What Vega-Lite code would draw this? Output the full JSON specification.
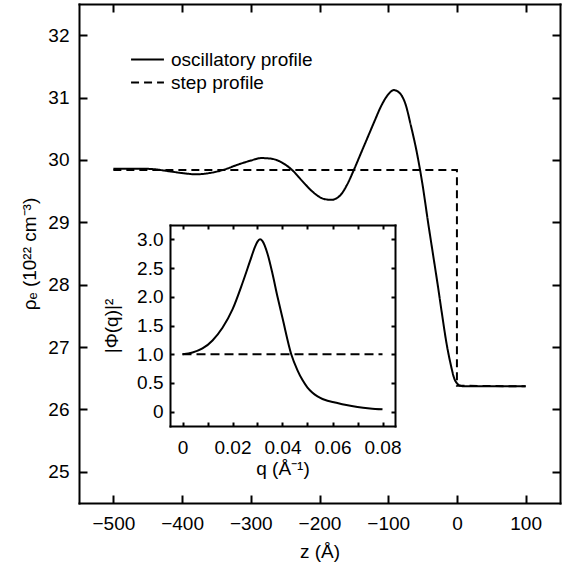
{
  "$schema": "https://vega.github.io/schema/vega-lite/v6.json",
  "width": 481,
  "height": 499,
  "autosize": {"type": "none"},
  "padding": {"left": 79, "top": 4, "right": 3, "bottom": 65},
  "background": "white",
  "config": {
    "view": {"stroke": null},
    "font": "Liberation Sans",
    "axis": {
      "grid": false,
      "domainColor": "black",
      "domainWidth": 2,
      "domainCap": "square",
      "tickColor": "black",
      "tickWidth": 2,
      "labelFont": "Liberation Sans",
      "labelFontSize": 19,
      "labelColor": "black",
      "titleFont": "Liberation Sans",
      "titleFontSize": 19,
      "titleFontWeight": "normal",
      "titleColor": "black",
      "labelFlush": false,
      "labelOverlap": false
    },
    "legend": {
      "orient": "none",
      "legendX": 56,
      "legendY": 43,
      "title": null,
      "symbolType": "M-1.43,0H1.43",
      "symbolStrokeColor": "black",
      "symbolStrokeWidth": 2,
      "symbolSize": 529,
      "labelFont": "Liberation Sans",
      "labelFontSize": 19,
      "labelColor": "black",
      "labelOffset": 11,
      "rowPadding": 0,
      "padding": 0
    }
  },
  "datasets": {
    "osc": [
      {"z": -500, "rho": 29.86}, {"z": -480, "rho": 29.86}, {"z": -460, "rho": 29.86},
      {"z": -440, "rho": 29.85}, {"z": -420, "rho": 29.82}, {"z": -400, "rho": 29.79},
      {"z": -380, "rho": 29.77}, {"z": -360, "rho": 29.79}, {"z": -340, "rho": 29.84},
      {"z": -320, "rho": 29.92}, {"z": -300, "rho": 29.99}, {"z": -285, "rho": 30.03},
      {"z": -270, "rho": 30.02}, {"z": -255, "rho": 29.96}, {"z": -240, "rho": 29.84},
      {"z": -225, "rho": 29.66}, {"z": -210, "rho": 29.49}, {"z": -195, "rho": 29.38},
      {"z": -183, "rho": 29.36}, {"z": -170, "rho": 29.43}, {"z": -160, "rho": 29.6},
      {"z": -150, "rho": 29.84}, {"z": -140, "rho": 30.1}, {"z": -130, "rho": 30.36},
      {"z": -120, "rho": 30.62}, {"z": -110, "rho": 30.87}, {"z": -100, "rho": 31.05},
      {"z": -92, "rho": 31.12}, {"z": -84, "rho": 31.08}, {"z": -75, "rho": 30.9},
      {"z": -67, "rho": 30.55}, {"z": -58, "rho": 30.1}, {"z": -50, "rho": 29.6},
      {"z": -42, "rho": 29.0}, {"z": -35, "rho": 28.5}, {"z": -28, "rho": 28.0},
      {"z": -22, "rho": 27.55}, {"z": -15, "rho": 27.05}, {"z": -9, "rho": 26.72},
      {"z": -4, "rho": 26.5}, {"z": 0, "rho": 26.42}, {"z": 5, "rho": 26.38},
      {"z": 12, "rho": 26.37}, {"z": 30, "rho": 26.37}, {"z": 100, "rho": 26.37}
    ],
    "step": [
      {"i": 1, "z": -500, "rho": 29.84},
      {"i": 2, "z": 0, "rho": 29.84},
      {"i": 3, "z": 0, "rho": 26.38},
      {"i": 4, "z": 100, "rho": 26.37}
    ],
    "phi": [
      {"q": 0, "v": 1.0}, {"q": 0.004, "v": 1.03}, {"q": 0.008, "v": 1.1},
      {"q": 0.012, "v": 1.24}, {"q": 0.016, "v": 1.46}, {"q": 0.02, "v": 1.78},
      {"q": 0.024, "v": 2.24}, {"q": 0.027, "v": 2.62}, {"q": 0.029, "v": 2.87},
      {"q": 0.03, "v": 2.96}, {"q": 0.031, "v": 3.0}, {"q": 0.032, "v": 2.97},
      {"q": 0.034, "v": 2.75}, {"q": 0.036, "v": 2.4}, {"q": 0.038, "v": 2.0},
      {"q": 0.04, "v": 1.63}, {"q": 0.0435, "v": 1.0}, {"q": 0.046, "v": 0.72},
      {"q": 0.048, "v": 0.55}, {"q": 0.05, "v": 0.42}, {"q": 0.052, "v": 0.33},
      {"q": 0.054, "v": 0.265}, {"q": 0.056, "v": 0.22}, {"q": 0.058, "v": 0.19},
      {"q": 0.061, "v": 0.16}, {"q": 0.065, "v": 0.12}, {"q": 0.07, "v": 0.08},
      {"q": 0.075, "v": 0.055}, {"q": 0.08, "v": 0.04}
    ],
    "phistep": [
      {"q": 0, "v": 1.0},
      {"q": 0.08, "v": 1.0}
    ]
  },
  "layer": [
    {
      "data": {"name": "osc"},
      "mark": {"type": "line", "color": "black", "strokeWidth": 2, "interpolate": "monotone"},
      "encoding": {
        "x": {
          "field": "z", "type": "quantitative",
          "scale": {"domain": [-550, 150], "nice": false, "zero": false},
          "axis": {"orient": "bottom", "values": [-500, -400, -300, -200, -100, 0, 100], "ticks": false, "labelPadding": 11, "title": "z (Å)", "titlePadding": 9}
        },
        "y": {
          "field": "rho", "type": "quantitative",
          "scale": {"domain": [24.5, 32.5], "nice": false, "zero": false},
          "axis": {"orient": "left", "values": [25, 26, 27, 28, 29, 30, 31, 32], "ticks": false, "labelPadding": 10, "title": "ρₑ (10²² cm⁻³)", "titlePadding": 8}
        },
        "strokeDash": {
          "datum": "oscillatory profile", "type": "nominal",
          "scale": {"domain": ["oscillatory profile", "step profile"], "range": [[1, 0], [8, 5]]}
        }
      }
    },
    {
      "data": {"name": "step"},
      "mark": {"type": "line", "color": "black", "strokeWidth": 2},
      "encoding": {
        "x": {
          "field": "z", "type": "quantitative",
          "scale": {"domain": [-550, 150], "nice": false, "zero": false},
          "axis": {"orient": "top", "offset": -499, "values": [-500, -400, -300, -200, -100, 0, 100], "tickSize": 8, "labels": false, "domain": false, "title": null}
        },
        "y": {
          "field": "rho", "type": "quantitative",
          "scale": {"domain": [24.5, 32.5], "nice": false, "zero": false},
          "axis": {"orient": "right", "offset": -481, "values": [25, 26, 27, 28, 29, 30, 31, 32], "tickSize": 8, "labels": false, "domain": false, "title": null}
        },
        "order": {"field": "i", "type": "quantitative"},
        "strokeDash": {"datum": "step profile", "type": "nominal"}
      }
    },
    {
      "data": {"name": "step"},
      "mark": {"type": "line", "color": "black", "opacity": 0},
      "encoding": {
        "x": {
          "field": "z", "type": "quantitative",
          "scale": {"domain": [-550, 150], "nice": false, "zero": false},
          "axis": {"orient": "bottom", "offset": -499, "values": [-500, -400, -300, -200, -100, 0, 100], "tickSize": 8, "labels": false, "title": null}
        },
        "y": {
          "field": "rho", "type": "quantitative",
          "scale": {"domain": [24.5, 32.5], "nice": false, "zero": false},
          "axis": {"orient": "left", "offset": -481, "values": [25, 26, 27, 28, 29, 30, 31, 32], "tickSize": 8, "labels": false, "title": null}
        }
      }
    },
    {
      "data": {"name": "phi"},
      "mark": {"type": "line", "color": "black", "strokeWidth": 2, "interpolate": "monotone"},
      "encoding": {
        "x": {
          "field": "q", "type": "quantitative",
          "scale": {"domain": [-0.005, 0.085], "range": [91, 316], "nice": false, "zero": false},
          "axis": {"orient": "bottom", "offset": -77, "values": [0, 0.01, 0.02, 0.03, 0.04, 0.05, 0.06, 0.07, 0.08], "ticks": false, "labelPadding": 12,
            "labelExpr": "datum.value == 0 ? '0' : (round(datum.value * 100) % 2 == 0 ? format(datum.value, '.2f') : '')",
            "title": "q (Å⁻¹)", "titlePadding": 2}
        },
        "y": {
          "field": "v", "type": "quantitative",
          "scale": {"domain": [-0.25, 3.25], "range": [422, 221], "nice": false, "zero": false},
          "axis": {"orient": "left", "offset": -91, "values": [0, 0.5, 1, 1.5, 2, 2.5, 3], "ticks": false, "labelPadding": 7,
            "labelExpr": "datum.value == 0 ? '0' : format(datum.value, '.1f')",
            "title": "|Φ(q)|²", "titlePadding": 15}
        }
      }
    },
    {
      "data": {"name": "phistep"},
      "mark": {"type": "line", "color": "black", "strokeWidth": 2, "strokeDash": [9, 5]},
      "encoding": {
        "x": {
          "field": "q", "type": "quantitative",
          "scale": {"domain": [-0.005, 0.085], "range": [91, 316], "nice": false, "zero": false},
          "axis": {"orient": "top", "offset": -422, "values": [0, 0.01, 0.02, 0.03, 0.04, 0.05, 0.06, 0.07, 0.08], "tickSize": 4, "labels": false, "domain": false, "title": null}
        },
        "y": {
          "field": "v", "type": "quantitative",
          "scale": {"domain": [-0.25, 3.25], "range": [422, 221], "nice": false, "zero": false},
          "axis": {"orient": "right", "offset": -390, "values": [0, 0.5, 1, 1.5, 2, 2.5, 3], "tickSize": 4, "labels": false, "domain": false, "title": null}
        }
      }
    },
    {
      "data": {"name": "phistep"},
      "mark": {"type": "line", "color": "black", "opacity": 0},
      "encoding": {
        "x": {
          "field": "q", "type": "quantitative",
          "scale": {"domain": [-0.005, 0.085], "range": [91, 316], "nice": false, "zero": false},
          "axis": {"orient": "bottom", "offset": -278, "values": [0, 0.01, 0.02, 0.03, 0.04, 0.05, 0.06, 0.07, 0.08], "tickSize": 4, "labels": false, "title": null}
        },
        "y": {
          "field": "v", "type": "quantitative",
          "scale": {"domain": [-0.25, 3.25], "range": [422, 221], "nice": false, "zero": false},
          "axis": {"orient": "left", "offset": -316, "values": [0, 0.5, 1, 1.5, 2, 2.5, 3], "tickSize": 4, "labels": false, "title": null}
        }
      }
    }
  ],
  "resolve": {
    "scale": {"x": "independent", "y": "independent"},
    "axis": {"x": "independent", "y": "independent"}
  }
}
